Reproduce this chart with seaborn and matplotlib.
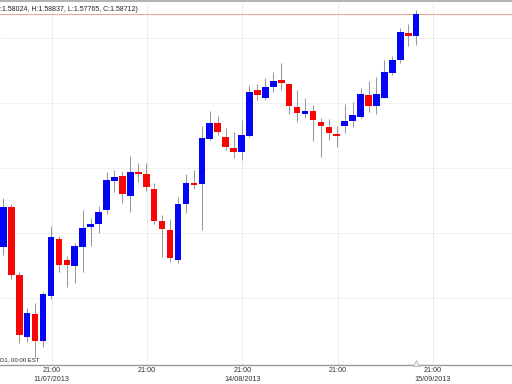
import matplotlib
matplotlib.use("Agg")
import matplotlib.pyplot as plt
import seaborn as sns
import pandas as pd
import numpy as np

# Daily OHLC (GBP/USD)
opens = [1.51489, 1.52729, 1.50621, 1.48699, 1.49412, 1.48575, 1.49970, 1.51737, 1.51086, 1.50900,
         1.51489, 1.52109, 1.52202, 1.52636, 1.53535, 1.53690, 1.53070, 1.53814, 1.53752, 1.53287,
         1.52295, 1.52016, 1.51086, 1.52822, 1.53473, 1.53442, 1.54837, 1.55333, 1.54899, 1.54558,
         1.54434, 1.54930, 1.56356, 1.56108, 1.56449, 1.56666, 1.56542, 1.55829, 1.55612, 1.55705,
         1.55364, 1.55209, 1.54992, 1.55240, 1.55395, 1.55519, 1.56201, 1.55860, 1.56108, 1.56883,
         1.57286, 1.58123, 1.58024]
highs = [1.53008, 1.52822, 1.50714, 1.49598, 1.49753, 1.50094, 1.52140, 1.51830, 1.51210, 1.51613,
         1.52636, 1.52388, 1.52760, 1.53814, 1.53876, 1.53845, 1.54310, 1.54093, 1.54093, 1.53473,
         1.52481, 1.52357, 1.53039, 1.53752, 1.53876, 1.55240, 1.55705, 1.55550, 1.55178, 1.55054,
         1.55426, 1.56511, 1.56542, 1.56728, 1.56914, 1.57193, 1.56542, 1.56356, 1.56108, 1.55891,
         1.55488, 1.55457, 1.55240, 1.55922, 1.55984, 1.56418, 1.56635, 1.56759, 1.57286, 1.57410,
         1.58278, 1.58402, 1.58837]
lows = [1.51241, 1.50497, 1.48513, 1.48544, 1.48079, 1.48389, 1.49877, 1.50714, 1.50249, 1.50373,
        1.50714, 1.51520, 1.51923, 1.52512, 1.53194, 1.52853, 1.52574, 1.53504, 1.53225, 1.52202,
        1.51179, 1.51024, 1.50993, 1.52543, 1.53287, 1.52016, 1.54806, 1.54961, 1.54496, 1.54248,
        1.54186, 1.54899, 1.56046, 1.56046, 1.56294, 1.56356, 1.55612, 1.55364, 1.55488, 1.54775,
        1.54279, 1.54806, 1.54589, 1.55023, 1.55209, 1.55488, 1.55674, 1.55612, 1.56108, 1.56821,
        1.57193, 1.57720, 1.57765]
closes = [1.52729, 1.50621, 1.48761, 1.49443, 1.48575, 1.50032, 1.51799, 1.50931, 1.50931, 1.51520,
          1.52078, 1.52202, 1.52574, 1.53566, 1.53659, 1.53132, 1.53814, 1.53752, 1.53349, 1.52295,
          1.52047, 1.51148, 1.52822, 1.53473, 1.53411, 1.54868, 1.55333, 1.55054, 1.54589, 1.54434,
          1.54961, 1.56294, 1.56201, 1.56449, 1.56635, 1.56573, 1.55860, 1.55643, 1.55705, 1.55426,
          1.55240, 1.55023, 1.54930, 1.55395, 1.55581, 1.56232, 1.55860, 1.56232, 1.56914, 1.57286,
          1.58154, 1.58030, 1.58712]

tick_positions = [6.1, 18.1, 30.1, 42.1, 54.1]
tick_labels = ["21:00\n11/07/2013", "21:00", "21:00\n14/08/2013", "21:00", "21:00\n15/09/2013"]
price_grid = [1.5797, 1.5595, 1.5394, 1.5192, 1.4991]
header_text = ":1.58024, H:1.58837, L:1.57765, C:1.58712)"
period_text = "D1, 00:00 EST"
last_close = 1.58712

sns.set_theme(style="white")
plt.rcParams["font.family"] = ["Liberation Sans", "DejaVu Sans"]

df = pd.DataFrame({"open": opens, "high": highs, "low": lows, "close": closes})
df["idx"] = np.arange(len(df))
df["up"] = df["close"] >= df["open"]
df["body_lo"] = df[["open", "close"]].min(axis=1)
df["body_h"] = (df["close"] - df["open"]).abs().clip(lower=0.0005)

fig = plt.figure(figsize=(5.12, 3.84), dpi=100)
fig.patch.set_facecolor("white")
H = 384.0
ax = fig.add_axes([0, 19 / H, 1, (365 - 3) / H])
ax.set_facecolor("white")

# grid
for gx in tick_positions:
    ax.axvline(gx, color="#ececec", lw=0.7, zorder=0)
for gy in price_grid:
    ax.axhline(gy, color="#f0f0f0", lw=0.7, zorder=0)

# current price line
ax.axhline(last_close, color="#e6a996", lw=0.8, zorder=1)

# wicks
ax.vlines(df["idx"], df["low"], df["high"], color="#999999", lw=0.75, zorder=2)
# bodies
colors = np.where(df["up"], "#0505f5", "#fa0505")
ax.bar(df["idx"], df["body_h"], bottom=df["body_lo"], width=0.83,
       color=colors, linewidth=0, zorder=3)

ax.set_xlim(-0.42, 64.07)
ax.set_ylim(1.47831, 1.59053)

for s in ["top", "right", "left"]:
    ax.spines[s].set_visible(False)
ax.spines["bottom"].set_color("#9a9a9a")
ax.spines["bottom"].set_linewidth(1.0)

ax.set_yticks([])
ax.set_xticks(tick_positions)
ax.set_xticklabels(tick_labels, fontsize=5.2, color="#333333", linespacing=1.45)
ax.tick_params(axis="x", length=0, pad=1.4)

# current bar marker on the time axis
ax.plot([df["idx"].iloc[-1]], [1.47893], marker="^", markersize=5,
        mfc="#f0f0f0", mec="#b5b5b5", mew=0.6, clip_on=False, zorder=5)

# texts
fig.text(0.5 / 512, 1 - 9.5 / H, header_text, ha="left", va="center",
         fontsize=5.0, color="#222222")
fig.text(0.5 / 512, 1 - 360 / H, period_text, ha="left", va="center",
         fontsize=4.3, color="#222222")

# top border band
fig.add_artist(plt.Rectangle((0, 1 - 2 / H), 1, 2 / H, transform=fig.transFigure,
                             facecolor="#b4b4b4", edgecolor="none"))

fig.savefig("out.png", dpi=100, facecolor="white")
